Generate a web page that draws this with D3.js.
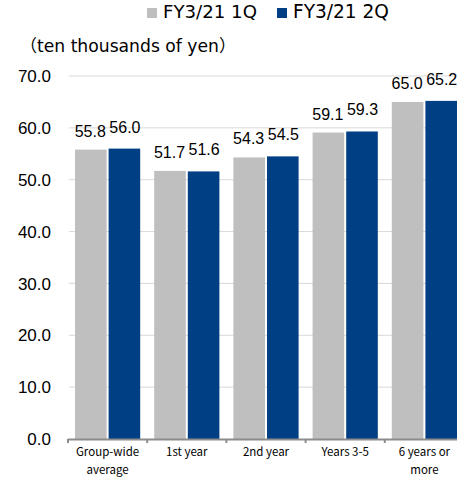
<!DOCTYPE html>
<html><head><meta charset="utf-8">
<script src="https://cdn.jsdelivr.net/npm/d3@7"></script>
<style>body{margin:0;background:#fff}svg{display:block}</style>
</head><body>
<script>
const categories = [["Group-wide","average"],["1st year"],["2nd year"],["Years 3-5"],["6 years or","more"]];
const series1Name = "FY3/21 1Q";
const series2Name = "FY3/21 2Q";
const series1 = [55.8, 51.7, 54.3, 59.1, 65.0];
const series2 = [56.0, 51.6, 54.5, 59.3, 65.2];
const yTicks = [0, 10, 20, 30, 40, 50, 60, 70];
const unitLabel = ["（", "ten thousands of yen", "）"];
const colors = ["#BFBFBF", "#003F84"];

const W = 457, H = 479;
const svg = d3.select("body").append("svg").attr("width", W).attr("height", H);
const x = d3.scaleBand().domain(d3.range(categories.length)).range([68, 464]).paddingInner(0).paddingOuter(0);
const y = d3.scaleLinear().domain([0, 70]).range([439, 76]);
const inner = d3.scaleBand().domain([0, 1]).range([7, x.bandwidth() - 7]).padding(0);
const cjk = "'Noto Sans CJK JP', sans-serif";
const dv = "'DejaVu Sans', sans-serif";
const num = "'Liberation Sans', Arial, sans-serif";

function fitWidth(sel, target) {
  sel.each(function() {
    const fs = +d3.select(this).attr("font-size");
    const w = this.getComputedTextLength();
    if (w > 0) d3.select(this).attr("font-size", (fs * target / w).toFixed(2));
  });
}

// gridlines
svg.append("g").selectAll("line").data(yTicks.filter(d => d > 0)).join("line")
  .attr("x1", 69).attr("x2", W).attr("y1", d => y(d)).attr("y2", d => y(d))
  .attr("stroke", "#D9D9D9").attr("stroke-width", 1);

// y tick labels
svg.append("g").selectAll("text").data(yTicks).join("text")
  .attr("x", 51).attr("y", d => y(d)).attr("dy", "0.36em").attr("text-anchor", "end")
  .attr("font-family", num).attr("font-size", 17).attr("fill", "#000")
  .text(d => d.toFixed(1));

// bars
const data = categories.map((c, i) => [series1[i], series2[i]]);
const groups = svg.append("g").selectAll("g").data(data).join("g")
  .attr("transform", (d, i) => `translate(${x(i)},0)`);
groups.selectAll("rect").data(d => d).join("rect")
  .attr("x", (d, j) => inner(j) + (j === 1 ? 1 : 0)).attr("width", inner.bandwidth() - 1)
  .attr("y", d => y(d)).attr("height", d => y(0) - y(d))
  .attr("fill", (d, j) => colors[j]);
groups.selectAll("text").data(d => d).join("text")
  .attr("x", (d, j) => inner(j) + inner.bandwidth() / 2 + (j === 0 ? -1 : 1))
  .attr("y", (d, j) => y(d) - (j === 0 ? 13 : 16))
  .attr("text-anchor", "middle").attr("font-family", num).attr("font-size", 16).attr("fill", "#000")
  .text(d => d.toFixed(1));

// x axis
const xa = svg.append("g");
xa.append("line").attr("x1", 68).attr("x2", W).attr("y1", y(0) + 0.5).attr("y2", y(0) + 0.5)
  .attr("stroke", "#8C8C8C").attr("stroke-width", 2);
xa.selectAll("line.tick").data(d3.range(categories.length)).join("line").attr("class", "tick")
  .attr("x1", i => x(i)).attr("x2", i => x(i)).attr("y1", y(0)).attr("y2", y(0) + 4)
  .attr("stroke", "#8C8C8C").attr("stroke-width", 2);
xa.selectAll("text").data(categories).join("text")
  .attr("x", (d, i) => x(i) + x.bandwidth() / 2).attr("y", 456)
  .attr("text-anchor", "middle").attr("font-family", cjk).attr("font-size", 11.5).attr("fill", "#000")
  .selectAll("tspan").data(d => d).join("tspan")
  .attr("x", function() { return d3.select(this.parentNode).attr("x"); })
  .attr("dy", (d, k) => k === 0 ? 0 : 18).text(d => d);

// unit label
const unit = svg.append("text").attr("x", 20).attr("y", 52).attr("fill", "#000");
unit.append("tspan").attr("font-family", cjk).attr("font-size", 17).text(unitLabel[0]);
const mid = unit.append("tspan").attr("font-family", dv).attr("font-size", 17).text(unitLabel[1]);
unit.append("tspan").attr("font-family", cjk).attr("font-size", 17).text(unitLabel[2]);
{
  const n = mid.node();
  const w = n.getComputedTextLength();
  if (w > 0) mid.attr("font-size", (17 * 182 / w).toFixed(2));
}

// legend
const leg = [[series1Name, colors[0], 147, 94], [series2Name, colors[1], 277, 96]];
const lg = svg.append("g").selectAll("g").data(leg).join("g");
lg.append("rect").attr("x", d => d[2]).attr("y", 8).attr("width", 10).attr("height", 10).attr("fill", d => d[1]);
lg.append("text").attr("x", d => d[2] + 16).attr("y", 18).attr("font-family", dv).attr("font-size", 17)
  .attr("fill", "#000").text(d => d[0])
  .each(function(d) { fitWidth(d3.select(this), d[3]); });
</script>
</body></html>
